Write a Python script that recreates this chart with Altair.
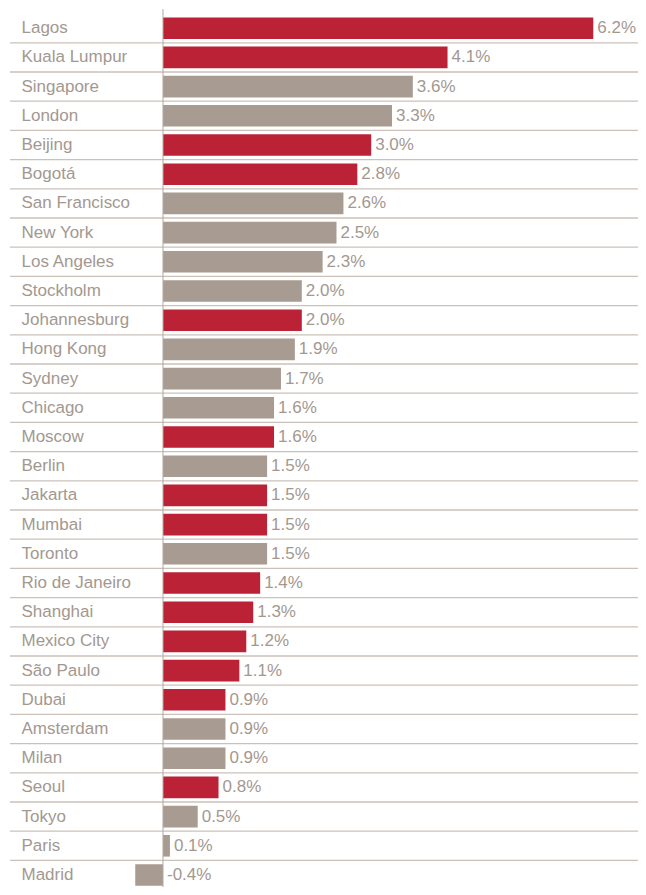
import altair as alt
import pandas as pd

cities = ["Lagos", "Kuala Lumpur", "Singapore", "London", "Beijing", "Bogotá",
          "San Francisco", "New York", "Los Angeles", "Stockholm", "Johannesburg",
          "Hong Kong", "Sydney", "Chicago", "Moscow", "Berlin", "Jakarta", "Mumbai",
          "Toronto", "Rio de Janeiro", "Shanghai", "Mexico City", "São Paulo",
          "Dubai", "Amsterdam", "Milan", "Seoul", "Tokyo", "Paris", "Madrid"]
values = [6.2, 4.1, 3.6, 3.3, 3.0, 2.8, 2.6, 2.5, 2.3, 2.0, 2.0, 1.9, 1.7, 1.6,
          1.6, 1.5, 1.5, 1.5, 1.5, 1.4, 1.3, 1.2, 1.1, 0.9, 0.9, 0.9, 0.8, 0.5,
          0.1, -0.4]
highlight = [1, 1, 0, 0, 1, 1, 0, 0, 0, 0, 1, 0, 0, 0, 1, 0, 1, 1, 0, 1, 1, 1,
             1, 1, 0, 0, 1, 0, 0, 0]

df = pd.DataFrame({
    "city": cities,
    "value": values,
    "group": ["red" if h else "grey" for h in highlight],
})
df["labelpos"] = df["value"].clip(lower=0)
df["label"] = df["value"].map(lambda v: f"{v:.1f}%")

W = 628
STEP = 29.2
YRANGE = STEP * len(cities)
H = 873
FONT = "Liberation Sans"
TXT = "#a39890"

xscale = alt.Scale(domain=[-2.2046, 6.8444], nice=False, zero=False)
yenc = alt.Y("city:N", sort=None,
             scale=alt.Scale(paddingInner=0, paddingOuter=0, range=[0, YRANGE]),
             axis=alt.Axis(title=None, domain=False, ticks=False, grid=False,
                           labelAlign="left", labelPadding=-11,
                           labelFont=FONT, labelFontSize=17, labelColor=TXT,
                           labelBaseline="middle"))

base = alt.Chart(df)

seps = base.mark_rule(color="#cbc1b9", strokeWidth=1.3, yOffset=STEP / 2).encode(
    y=yenc, x=alt.value(0), x2=alt.value(W)
)

bars = base.mark_bar(height=21.6).encode(
    y=yenc,
    x=alt.X("value:Q", scale=xscale, axis=None),
    color=alt.Color("group:N",
                    scale=alt.Scale(domain=["red", "grey"], range=["#bb2235", "#a89b91"]),
                    legend=None),
)

zero = alt.Chart(pd.DataFrame({"z": [0]})).mark_rule(color="#b3a79e", strokeWidth=1).encode(
    x=alt.X("z:Q", scale=xscale, axis=None),
    y=alt.value(-4.5), y2=alt.value(YRANGE),
)

labels = base.mark_text(align="left", baseline="middle", dx=4,
                        font=FONT, fontSize=17, color=TXT).encode(
    y=yenc,
    x=alt.X("labelpos:Q", scale=xscale, axis=None),
    text="label:N",
)

chart = alt.layer(seps, bars, zero, labels).properties(
    width=W, height=H,
    padding={"top": 5.6, "left": 2, "right": 0, "bottom": 0},
    autosize=alt.AutoSizeParams(type="none"),
).configure_view(stroke=None)

chart.save("out.html", embed_options={"renderer": "svg", "actions": False})
